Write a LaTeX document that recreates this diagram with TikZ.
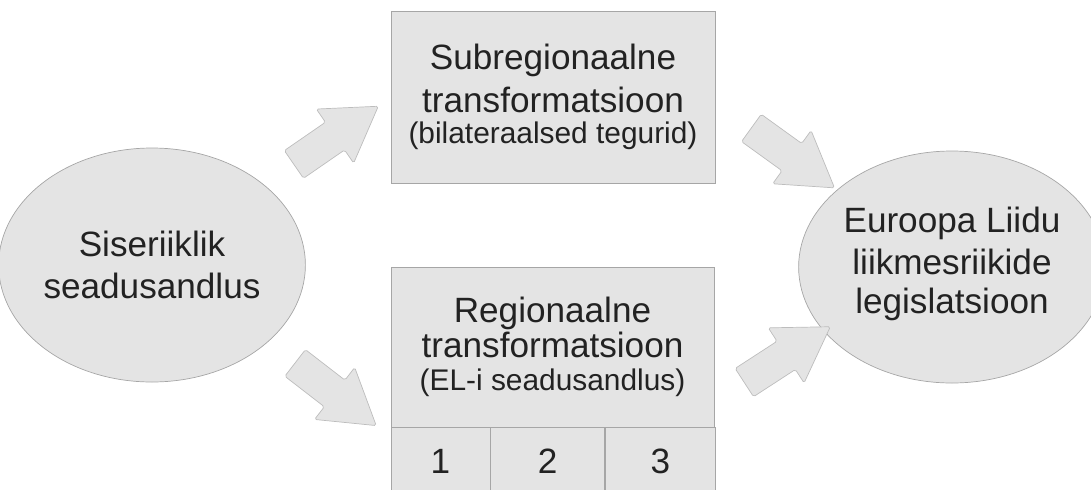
\documentclass[tikz,border=0pt]{standalone}
\usepackage{fontspec}
\setmainfont{Liberation Sans}
\usetikzlibrary{positioning, shapes.geometric, shapes.arrows}

\definecolor{boxfill}{HTML}{E4E4E4}
\definecolor{boxline}{HTML}{A6A6A6}
\definecolor{arrowline}{HTML}{BDBDBD}
\definecolor{textgray}{HTML}{222222}

\begin{document}
\begin{tikzpicture}[
    font=\fontsize{20}{24}\selectfont,
    text=textgray,
    oval/.style={draw=boxline, fill=boxfill, ellipse, align=center, inner sep=0pt},
    box/.style={draw=boxline, fill=boxfill, rectangle, align=center, inner sep=0pt},
    cell/.style={draw=boxline, fill=boxfill, rectangle, inner sep=0pt, minimum height=1.36cm},
    bigarrow/.style={draw=arrowline, fill=boxfill, single arrow, inner xsep=0pt, inner ysep=0.33cm,
        minimum height=2.05cm, minimum width=1.3cm, single arrow head extend=0.32cm,
        single arrow tip angle=64, rounded corners=1pt}
]

    \useasboundingbox (0,0) rectangle (21.82,-9.78);

    % Draw nodes
    \node[oval, minimum width=5.6cm, minimum height=4.68cm] (siseriiklik) at (3.04,-5.30)
        {Siseriiklik\\seadusandlus};
    \node[oval, minimum width=5.52cm, minimum height=4.64cm, text depth=8pt] (euroopa) at (19.04,-5.34)
        {Euroopa Liidu\\liikmesriikide\\[-2pt]legislatsioon};

    \node[box, minimum width=6.48cm, minimum height=3.44cm] (subreg) at (11.06,-1.94)
        {Subregionaalne\\[0.5pt]transformatsioon\\[-6pt]{\fontsize{17}{20}\selectfont (bilateraalsed tegurid)}};
    \node[box, minimum width=6.46cm, minimum height=3.2cm] (reg) at (11.05,-6.94)
        {Regionaalne\\[-4pt]transformatsioon\\[-5pt]{\fontsize{17}{20}\selectfont (EL-i seadusandlus)}};

    \node[cell, minimum width=1.98cm, anchor=north west] (cellone) at (reg.south west) {1};
    \node[cell, minimum width=2.28cm, right=0pt of cellone] (celltwo) {2};
    \node[cell, minimum width=2.2cm, right=0pt of celltwo] (cellthree) {3};

    % Draw arrows
    \node[bigarrow, rotate=34.6] (toSub) at (6.50,-2.86) {};
    \node[bigarrow, rotate=-37.7] (toReg) at (6.50,-7.72) {};
    \node[bigarrow, rotate=-35.8] (fromSub) at (15.64,-3.00) {};
    \node[bigarrow, rotate=33] (fromReg) at (15.52,-7.24) {};

\end{tikzpicture}
\end{document}
